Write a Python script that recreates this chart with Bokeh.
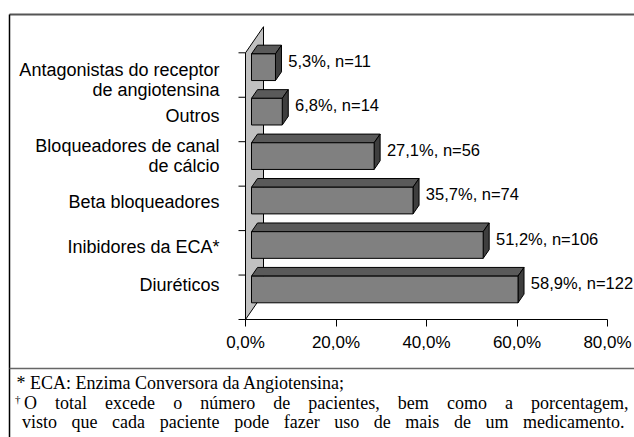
from bokeh.plotting import figure
from bokeh.models import Range1d, LinearAxis, FixedTicker, ColumnDataSource
from bokeh.core.properties import value
from bokeh.embed import file_html
from bokeh.resources import INLINE

# ---------------- data ----------------
categories = [
    "Diuréticos",
    "Inibidores da ECA*",
    "Beta bloqueadores",
    "Bloqueadores de canal\nde cálcio",
    "Outros",
    "Antagonistas do receptor\nde angiotensina",
]
percent = [58.9, 51.2, 35.7, 27.1, 6.8, 5.3]
counts = [122, 106, 74, 56, 14, 11]
x_ticks = [0, 20, 40, 60, 80]
x_tick_labels = ["0,0%", "20,0%", "40,0%", "60,0%", "80,0%"]
footnote_1 = "* ECA: Enzima Conversora da Angiotensina;"
footnote_2 = "O total excede o número de pacientes, bem como a porcentagem,"
footnote_3 = "visto que cada paciente pode fazer uso de mais de um medicamento."
footnote_mark = "\u2020"

# ---------------- geometry helpers (layout only) ----------------
FIG_W, FIG_H = 634, 437
PXX = 4.525        # pixels per percent
X0 = 245           # canvas px of 0 %
PXY = 44.45        # pixels per category band
Y0 = 319           # canvas px (from top) of category baseline


def dxp(px):
    return px / PXX


def dyp(px):
    return px / PXY


def xpage(px):
    return (px - X0) / PXX


def ypage(py):
    return (Y0 - py) / PXY


p = figure(width=FIG_W, height=FIG_H, output_backend="svg", toolbar_location=None,
           x_axis_type=None, y_axis_type=None,
           x_range=Range1d(xpage(0), xpage(FIG_W)), y_range=Range1d(ypage(FIG_H), ypage(0)),
           min_border=0, border_fill_color="white", background_fill_color="white")
p.outline_line_color = None

ncat = len(categories)
ox, oy = dxp(6), dyp(8.7)    # 3-D offset of one third depth

# back wall
p.patch([0, 0, 3 * ox, 3 * ox], [0, ncat, ncat + 3 * oy, 3 * oy],
        fill_color="#c0c0c0", line_color="black", line_width=1)

# category tick marks on the wall edge
p.segment(x0=[dxp(-7)] * (ncat + 1), y0=list(range(ncat + 1)),
          x1=[0] * (ncat + 1), y1=list(range(ncat + 1)), line_color="black", line_width=1)

# bars
front = dict(left=[], right=[], bottom=[], top=[])
tops_x, tops_y, sides_x, sides_y = [], [], [], []
lab_x, lab_y, lab_t = [], [], []
hh = 0.3
for i, (v, n) in enumerate(zip(percent, counts)):
    c = i + 0.48
    b, t = c - hh + oy, c + hh + oy
    front["left"].append(ox)
    front["right"].append(ox + v)
    front["bottom"].append(b)
    front["top"].append(t)
    tops_x.append([ox, ox + v, 2 * ox + v, 2 * ox])
    tops_y.append([t, t, t + oy, t + oy])
    sides_x.append([ox + v, 2 * ox + v, 2 * ox + v, ox + v])
    sides_y.append([b, b + oy, t + oy, t])
    lab_x.append(ox + v + dxp(12.8))
    lab_y.append(c + dyp(15))
    lab_t.append(("%.1f" % v).replace(".", ",") + "%, n=" + str(n))

p.patches(tops_x, tops_y, fill_color="#5a5a5a", line_color="black", line_width=1)
p.patches(sides_x, sides_y, fill_color="#3e3e3e", line_color="black", line_width=1)
p.quad(source=ColumnDataSource(front), left="left", right="right", bottom="bottom", top="top",
       fill_color="#808080", line_color="black", line_width=1)

p.text(x=lab_x, y=lab_y, text=lab_t, text_font=value("Liberation Sans"),
       text_font_size="16.5px", text_align="left", text_baseline="middle", text_color="black")

# category labels (small per-label vertical nudges, px, positive = down)
label_nudge = [-12, -6, -6.4, -8, -3, 5]
p.text(x=[dxp(-26)] * ncat, y=[i + 0.5 - dyp(label_nudge[i]) for i in range(ncat)], text=categories,
       text_font=value("Liberation Sans"), text_font_size="18px", text_align="right",
       text_baseline="middle", text_color="black", text_line_height=1.0)

# value axis
xaxis = LinearAxis(fixed_location=0, ticker=FixedTicker(ticks=x_ticks), bounds=(0, 80),
                   major_label_overrides={t: s for t, s in zip(x_ticks, x_tick_labels)},
                   major_tick_out=7, major_tick_in=0, minor_tick_out=0, minor_tick_in=0,
                   major_label_standoff=6, axis_line_color="black", major_tick_line_color="black",
                   major_label_text_font="Liberation Sans", major_label_text_font_size="17px",
                   major_label_text_color="black")
p.add_layout(xaxis, "below")

# frame lines
p.segment(x0=[xpage(9), xpage(9), xpage(9)], y0=[ypage(14), ypage(14), ypage(368)],
          x1=[xpage(634), xpage(9), xpage(634)], y1=[ypage(14), ypage(437), ypage(368)],
          line_color=["#555555", "black", "#666666"], line_width=[2, 1.5, 1.5])

# ---------------- footnotes (justified like the source) ----------------
TIMES = {" ": 250, ",": 250, ".": 250, ";": 278, ":": 278, "*": 500,
         "a": 444, "b": 500, "c": 444, "d": 500, "e": 444, "f": 333, "g": 500, "h": 500,
         "i": 278, "l": 278, "m": 778, "n": 500, "o": 500, "p": 500, "q": 500, "r": 333,
         "s": 389, "t": 278, "u": 500, "ú": 500, "v": 500, "x": 500, "z": 444,
         "O": 722, "E": 611, "C": 667, "A": 722}
FN_SIZE = 18


def word_w(w):
    return sum(TIMES.get(ch, 500) for ch in w) * FN_SIZE / 1000.0


def justify(line, x_left, x_right):
    words = line.split(" ")
    widths = [word_w(w) for w in words]
    gap = (x_right - x_left - sum(widths)) / (len(words) - 1)
    xs, cur = [], x_left
    for w in widths:
        xs.append(cur)
        cur += w + gap
    return words, xs


fn_font = value("Liberation Serif")
p.text(x=[xpage(16)], y=[ypage(382)], text=[footnote_1], text_font=fn_font,
       text_font_size="%dpx" % FN_SIZE, text_align="left", text_baseline="middle", text_color="black")
p.text(x=[xpage(14.5)], y=[ypage(398)], text=[footnote_mark], text_font=fn_font,
       text_font_size="11px", text_align="left", text_baseline="middle", text_color="black")
for line, xl, xr, yy in [(footnote_2, 23.5, 628, 402), (footnote_3, 21.5, 624, 421)]:
    words, xs = justify(line, xl, xr)
    p.text(x=[xpage(x) for x in xs], y=[ypage(yy)] * len(words), text=words, text_font=fn_font,
           text_font_size="%dpx" % FN_SIZE, text_align="left", text_baseline="middle",
           text_color="black")

open("out.html", "w").write(file_html(p, INLINE))
